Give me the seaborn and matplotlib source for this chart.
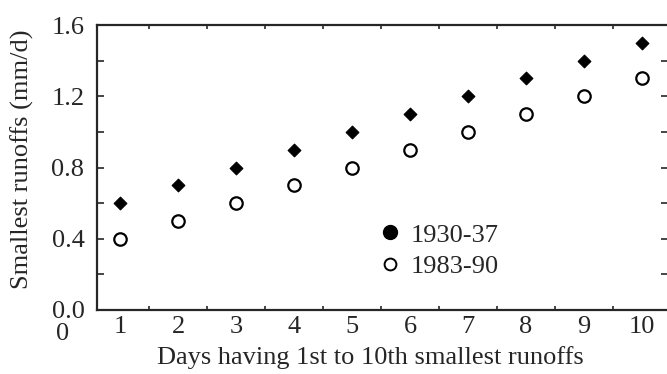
import matplotlib
matplotlib.use('Agg')
import matplotlib.pyplot as plt
from matplotlib.lines import Line2D
from matplotlib.ticker import MultipleLocator
import seaborn as sns

#data
days = [1, 2, 3, 4, 5, 6, 7, 8, 9, 10]
runoff_1930_37 = [0.6, 0.7, 0.8, 0.9, 1.0, 1.1, 1.2, 1.3, 1.4, 1.5]
runoff_1983_90 = [0.4, 0.5, 0.6, 0.7, 0.8, 0.9, 1.0, 1.1, 1.2, 1.3]
labels = ['1930-37', '1983-90']
xtick_labels = [str(d) for d in days]
ytick_values = [0.0, 0.4, 0.8, 1.2, 1.6]

#style
sns.set_style('ticks')
plt.rcParams['font.family'] = ['Liberation Serif', 'DejaVu Serif']
fs = 19

fig = plt.figure(figsize=(6.67, 3.74), dpi=100)
ax = fig.add_axes([97 / 667, 1 - 310 / 374, 571 / 667, 285 / 374])

#plot
sns.scatterplot(x=days, y=runoff_1930_37, marker='D', s=42, color='black',
                edgecolor='black', linewidth=0.8, ax=ax, zorder=3)
sns.scatterplot(x=days, y=runoff_1983_90, marker='o', s=80, facecolor='white',
                edgecolor='black', linewidth=1.6, ax=ax, zorder=3)

#axes
ax.set_xlim(0.6, 10.45)
ax.set_ylim(0, 1.6)
ax.set_xticks(days)
ax.set_xticklabels(xtick_labels, fontsize=fs)
ax.tick_params(axis='x', length=0, pad=4)
ax.set_xticks([d + 0.5 for d in days[:-1]], minor=True)
ax.tick_params(axis='x', which='minor', direction='in', length=3, width=1.2,
               top=True, bottom=True)
ax.set_yticks(ytick_values)
ax.set_yticklabels([f'{v:.1f}' for v in ytick_values], fontsize=fs)
ax.yaxis.set_minor_locator(MultipleLocator(0.2))
ax.tick_params(axis='y', which='both', direction='in', length=5, width=1.2,
               left=True, right=True, pad=9)
for side in ['left', 'bottom', 'top']:
    ax.spines[side].set_linewidth(1.6)
ax.spines['right'].set_visible(False)
ax.text(-0.06, -0.045, '0', transform=ax.transAxes, fontsize=fs,
        ha='center', va='top')

ax.set_xlabel('Days having 1st to 10th smallest runoffs', fontsize=fs)
ax.xaxis.set_label_coords(0.478, -0.125)
ax.set_ylabel('Smallest runoffs (mm/d)', fontsize=fs)
ax.yaxis.set_label_coords(-0.11, 0.53)

#legend
handles = [
    Line2D([], [], marker='o', linestyle='none', markersize=10,
           markerfacecolor='black', markeredgecolor='black'),
    Line2D([], [], marker='o', linestyle='none', markersize=8.5,
           markerfacecolor='white', markeredgecolor='black', markeredgewidth=1.4),
]
ax.legend(handles, labels, loc='upper left', bbox_to_anchor=(0.49, 0.305),
          frameon=False, fontsize=fs, handletextpad=0.3, labelspacing=0.3,
          borderaxespad=0, borderpad=0, handlelength=1.0)

fig.savefig('out.png', dpi=100)
